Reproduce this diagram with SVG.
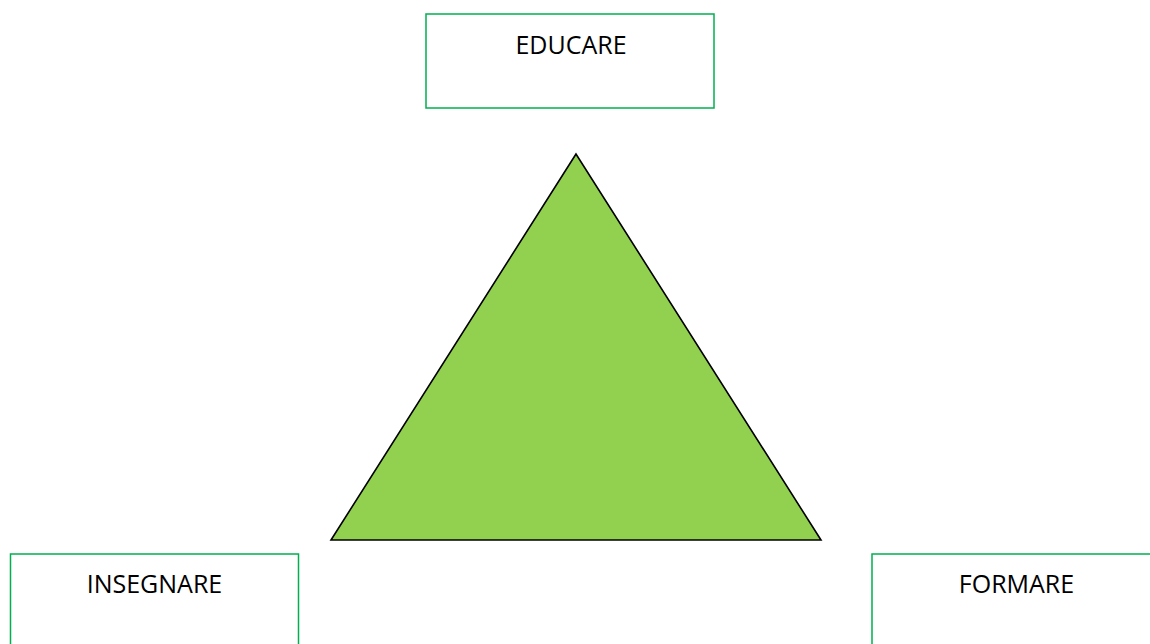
<svg xmlns="http://www.w3.org/2000/svg" width="1150" height="644" viewBox="0 0 1150 644">
<style>
.box{fill:#fff;stroke:#00B050;stroke-width:1.5}
.lbl{font-family:"Open Sans","Liberation Sans",sans-serif;font-size:25px;fill:#000;text-anchor:middle}
</style>
<rect width="1150" height="644" fill="#fff"/>
<g id="triangle">
<polygon points="576,154 331,540 821,540" fill="#92D050" stroke="#000" stroke-width="1.6" stroke-linejoin="miter"/>
</g>
<g id="educare">
<rect class="box" x="426" y="14" width="288" height="94"/>
<text class="lbl" x="571" y="54">EDUCARE</text>
</g>
<g id="insegnare">
<rect class="box" x="10.5" y="554" width="288" height="100"/>
<text class="lbl" x="154.5" y="593">INSEGNARE</text>
</g>
<g id="formare">
<rect class="box" x="872" y="554" width="300" height="100"/>
<text class="lbl" x="1016.5" y="593">FORMARE</text>
</g>
<g id="connectors"></g>
</svg>
